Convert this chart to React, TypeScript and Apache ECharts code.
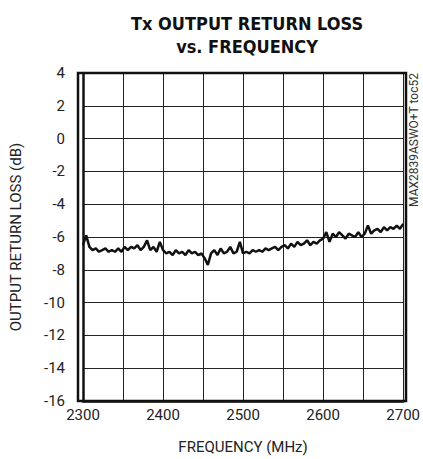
import React, { useEffect, useRef } from "react";
import * as echarts from "echarts";

const freqStart = 2300;
const freqStep = 4;
const returnLoss = [
  -6.5, -5.9, -6.6, -6.8, -6.7, -6.9, -6.8, -6.7, -6.9, -6.8, -6.9, -6.7, -6.9,
  -6.6, -6.8, -6.6, -6.7, -6.5, -6.8, -6.6, -6.2, -6.8, -6.6, -6.9, -6.3, -6.8,
  -7.0, -6.9, -7.1, -6.8, -7.0, -6.9, -7.1, -6.8, -7.0, -6.9, -7.1, -7.0, -7.3,
  -7.7, -7.0, -6.8, -7.1, -6.7, -7.0, -6.9, -6.6, -7.0, -6.9, -6.3, -7.0,
  -6.9, -7.0, -6.8, -6.9, -6.8, -6.9, -6.7, -6.8, -6.7, -6.6, -6.8, -6.6, -6.5,
  -6.7, -6.4, -6.6, -6.3, -6.5, -6.4, -6.2, -6.5, -6.3, -6.4, -6.2, -6.1,
  -5.7, -6.3, -5.8, -6.0, -5.7, -5.9, -6.1, -5.8, -5.9, -6.0, -5.7, -6.0, -5.8,
  -5.3, -5.8, -5.6, -5.5, -5.7, -5.4, -5.6, -5.4, -5.5, -5.3, -5.5, -5.2,
];
const xTickLabels = ["2300", "2400", "2500", "2600", "2700"];
const titleLines = ["Tx OUTPUT RETURN LOSS", "vs. FREQUENCY"];
const xName = "FREQUENCY (MHz)";
const yName = "OUTPUT RETURN LOSS (dB)";
const sideNote = "MAX2839ASWO+T toc52";

const TITLE_FONT = "'DejaVu Sans Condensed', 'DejaVu Sans', sans-serif";
const FONT = "Roboto, 'Liberation Sans', sans-serif";

export default function App() {
  const ref = useRef<HTMLDivElement>(null);
  useEffect(() => {
    if (!ref.current) return;
    const chart = echarts.init(ref.current, undefined, { renderer: "svg" });
    const data = returnLoss.map((v, i) => [freqStart + i * freqStep, v]);
    chart.setOption({
      animation: false,
      backgroundColor: "#fff",
      title: {
        text: titleLines.join("\n"),
        left: 242,
        textAlign: "center",
        top: 7,
        textStyle: {
          fontFamily: TITLE_FONT,
          fontWeight: "bold",
          fontSize: 18,
          lineHeight: 23,
          color: "#111",
        },
      },
      grid: { left: 78, right: 17, top: 73, bottom: 58, containLabel: false },
      xAxis: {
        type: "value",
        min: 2300,
        max: 2700,
        interval: 50,
        name: xName,
        nameLocation: "middle",
        nameGap: 38,
        nameTextStyle: { fontFamily: FONT, fontSize: 15, color: "#222" },
        axisLine: { show: true, onZero: false, lineStyle: { color: "#111", width: 2.5 } },
        axisTick: { show: false },
        axisLabel: {
          fontFamily: FONT,
          fontSize: 15,
          color: "#222",
          margin: 6,
          formatter: (v: number) => (xTickLabels.includes(String(v)) ? String(v) : ""),
        },
        splitLine: { show: true, lineStyle: { color: "#222", width: 1 } },
      },
      yAxis: {
        type: "value",
        min: -16,
        max: 4,
        interval: 2,
        name: yName,
        nameLocation: "middle",
        nameRotate: 90,
        nameGap: 60,
        nameTextStyle: { fontFamily: FONT, fontSize: 15, color: "#222" },
        axisLine: { show: true, onZero: false, lineStyle: { color: "#111", width: 2.5 } },
        axisTick: { show: false },
        axisLabel: { fontFamily: FONT, fontSize: 15, color: "#222", margin: 18 },
        splitLine: { show: true, lineStyle: { color: "#222", width: 1 } },
      },
      graphic: [
        {
          type: "rect",
          shape: { x: 78, y: 73, width: 328, height: 328 },
          style: { fill: "none", stroke: "#111", lineWidth: 2.5 },
          z: 10,
        },
        {
          type: "text",
          x: 414,
          y: 140,
          rotation: Math.PI / 2,
          style: {
            text: sideNote,
            fontFamily: FONT,
            fontSize: 12,
            fill: "#333",
            align: "center",
            verticalAlign: "middle",
          },
        },
      ],
      series: [
        {
          type: "line",
          data,
          showSymbol: false,
          symbol: "none",
          lineStyle: { color: "#111", width: 2.5 },
          z: 5,
        },
      ],
    });
    return () => chart.dispose();
  }, []);
  return (
    <div
      ref={ref}
      style={{ position: "absolute", left: 0, top: 0, width: 423, height: 459 }}
    />
  );
}
